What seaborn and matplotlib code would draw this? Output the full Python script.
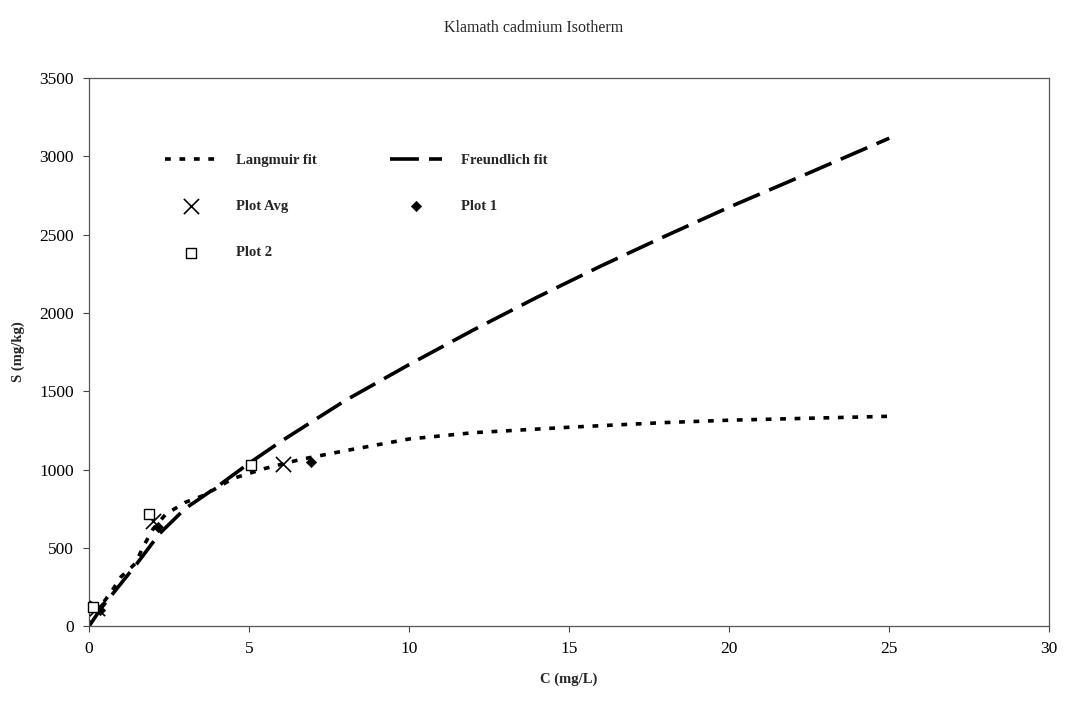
import matplotlib
matplotlib.use("Agg")
import matplotlib.pyplot as plt
import seaborn as sns
import pandas as pd

# ---- data ----
lang_c = [0, 0.3, 0.7, 1.0, 1.45, 1.7, 2.0, 2.4, 3.0, 3.6, 4.5, 5.5, 6.6, 8, 10, 12, 15, 18, 20, 22, 25]
lang_s = [0, 110, 220, 315, 400, 510, 620, 715, 790, 836, 943, 1007, 1064, 1120, 1195, 1235, 1270, 1300, 1315, 1325, 1340]

freu_c = [0, 0.4, 1.5, 2.2, 3, 4, 5, 6, 8, 10, 12, 14, 16, 18, 20, 22, 25]
freu_s = [0, 120, 400, 590, 750, 890, 1040, 1180, 1440, 1670, 1890, 2100, 2300, 2490, 2675, 2850, 3115]

avg_c = [0.25, 2.0, 6.05]
avg_s = [115, 670, 1035]
p1_c = [0.35, 2.15, 6.95]
p1_s = [105, 635, 1045]
p2_c = [0.12, 1.88, 5.05]
p2_s = [125, 715, 1030]

x_ticks = [0, 5, 10, 15, 20, 25, 30]
y_ticks = [0, 500, 1000, 1500, 2000, 2500, 3000, 3500]

sns.set_theme(style="white")
plt.rcParams['font.family'] = ['Liberation Serif', 'DejaVu Serif']

fig = plt.figure(figsize=(10.67, 7.02), dpi=100)
ax = fig.add_axes([0.0834, 0.108, 0.9, 0.781])

lang = pd.DataFrame({"C": lang_c, "S": lang_s})
freu = pd.DataFrame({"C": freu_c, "S": freu_s})

sns.lineplot(data=lang, x="C", y="S", ax=ax, color="black", lw=2.6,
             sort=False, estimator=None, label="Langmuir fit")
ax.lines[-1].set_dashes((1.6, 2.4))
ax.lines[-1].set_dash_capstyle("butt")
sns.lineplot(data=freu, x="C", y="S", ax=ax, color="black", lw=2.6,
             sort=False, estimator=None, label="Freundlich fit")
ax.lines[-1].set_dashes((8, 2.8))

sns.scatterplot(x=avg_c, y=avg_s, ax=ax, marker="x", s=120, color="black",
                linewidth=1.2, label="Plot Avg", zorder=5, clip_on=False)
sns.scatterplot(x=p1_c, y=p1_s, ax=ax, marker="D", s=28, color="black",
                edgecolor="black", label="Plot 1", zorder=5, clip_on=False)
sns.scatterplot(x=p2_c, y=p2_s, ax=ax, marker="s", s=55, facecolor="white",
                edgecolor="black", linewidth=1.0, label="Plot 2", zorder=6,
                clip_on=False)

ax.set_xlim(0, 30)
ax.set_ylim(0, 3500)
ax.set_xticks(x_ticks)
ax.set_yticks(y_ticks)
ax.tick_params(axis="both", which="both", direction="out", length=4, width=0.8,
               colors="#444444", labelcolor="black", labelsize=12.5,
               bottom=True, left=True, pad=7)
for sp in ax.spines.values():
    sp.set_color("#555555")
    sp.set_linewidth(0.9)

ax.set_xlabel("C (mg/L)", fontsize=10.5, fontweight="bold", labelpad=11)
ax.set_ylabel("S (mg/kg)", fontsize=10.5, fontweight="bold", labelpad=10)
fig.suptitle("Klamath cadmium Isotherm", fontsize=11.5, y=0.972, x=0.5)

h, l = ax.get_legend_handles_labels()
order = ["Langmuir fit", "Plot Avg", "Plot 2", "Freundlich fit", "Plot 1"]
hm = dict(zip(l, h))
leg = ax.legend([hm[k] for k in order], order, ncol=2, frameon=False,
                loc="upper left", bbox_to_anchor=(0.065, 0.885),
                prop={"weight": "bold", "size": 10.5},
                handlelength=3.6, labelspacing=2.25, columnspacing=5.0,
                handletextpad=1.3)

fig.savefig("out.png", dpi=100, facecolor="white")
